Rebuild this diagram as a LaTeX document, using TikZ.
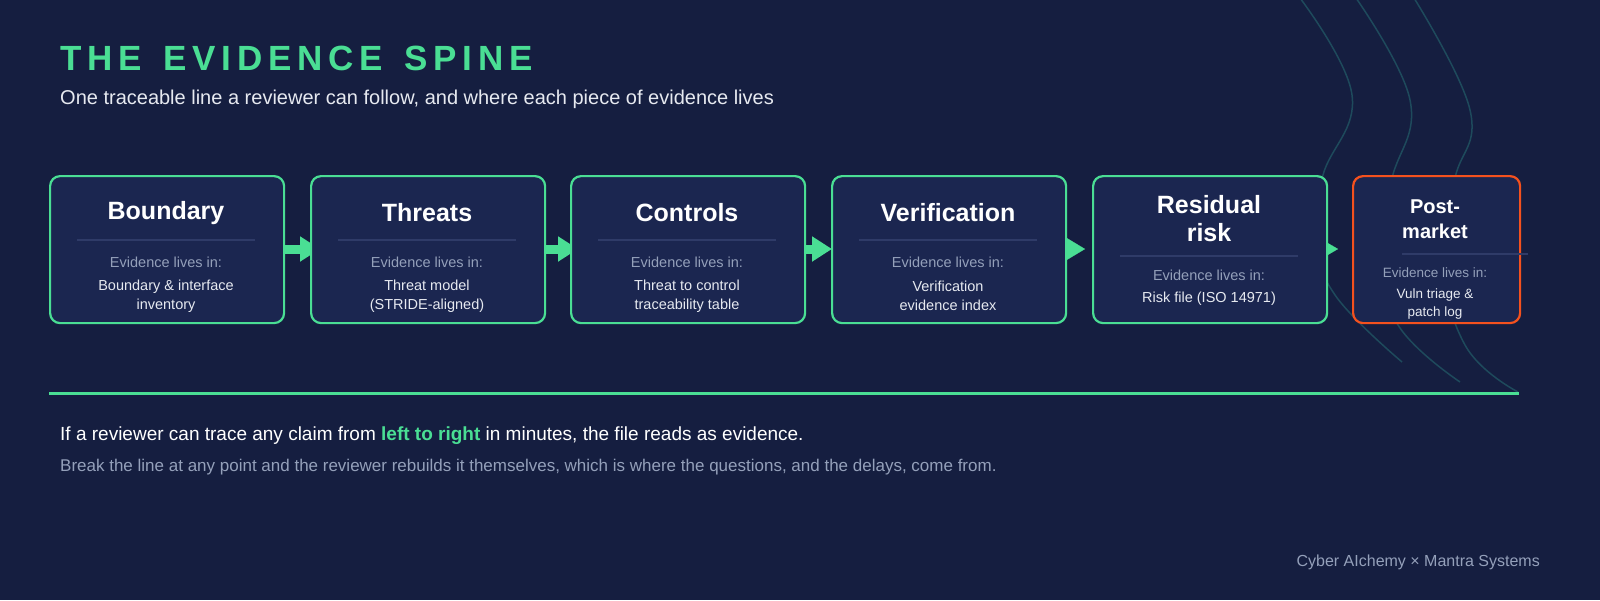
\documentclass[tikz,border=0pt]{standalone}
\usepackage{fontspec}
\setmainfont{Liberation Sans}
\usetikzlibrary{arrows.meta}
\definecolor{bg}{HTML}{151E40}
\definecolor{boxbg}{HTML}{1B2650}
\definecolor{grn}{HTML}{4ADE94}
\definecolor{org}{HTML}{F4511E}
\definecolor{arc}{HTML}{1E4A5C}
\definecolor{sep}{HTML}{2F3B68}
\definecolor{mut}{HTML}{94A0BA}
\definecolor{txt}{HTML}{E6E9F0}
\begin{document}
\begin{tikzpicture}[x=1pt,y=-1pt,
  box/.style={draw=grn,line width=2.2pt,fill=boxbg,rounded corners=10pt},
  ttl/.style={text=white,font=\bfseries\fontsize{25}{27}\selectfont,align=center},
  ttls/.style={text=white,font=\bfseries\fontsize{20}{25}\selectfont,align=center},
  lab/.style={text=mut,font=\fontsize{14.5}{17}\selectfont},
  val/.style={text=txt,font=\fontsize{14.5}{19}\selectfont,align=center},
  sepl/.style={draw=sep,line width=1.2pt},
  arr/.style={grn,line width=9pt,-{Triangle[length=20pt,width=24pt]}},
  crv/.style={draw=arc,line width=1.5pt}]
\fill[bg] (0,0) rectangle (1600,600);
\useasboundingbox (0,0) rectangle (1600,600);
% decorative arcs
\draw[crv] plot[smooth,tension=0.7] coordinates {(1300,-2)(1352,95)(1323,175)(1315,235)(1335,295)(1402,362)};
\draw[crv] plot[smooth,tension=0.7] coordinates {(1356,-2)(1410,100)(1392,178)(1375,245)(1398,325)(1460,382)};
\draw[crv] plot[smooth,tension=0.7] coordinates {(1414,-2)(1470,110)(1455,178)(1440,250)(1465,345)(1518,392)};
% connectors
\coordinate (a1s) at (283,249); \coordinate (a1e) at (320,249);
\coordinate (a2s) at (543,249); \coordinate (a2e) at (578,249);
\coordinate (a3s) at (804,249); \coordinate (a3e) at (832,249);
\coordinate (a4s) at (1064,249); \coordinate (a4e) at (1085,249);
\coordinate (a5s) at (1325,249); \coordinate (a5e) at (1338,249);
\draw[arr] (a1s) -- (a1e);
\draw[arr] (a2s) -- (a2e);
\draw[arr] (a3s) -- (a3e);
\draw[arr,line width=0.1pt] (a4s) -- (a4e);
\draw[grn,line width=0.1pt,-{Triangle[length=12pt,width=14pt]}] (a5s) -- (a5e);
% boxes
\node[box,minimum width=234pt,minimum height=147pt,anchor=north west] (b1) at (49,175) {};
\node[box,minimum width=234pt,minimum height=147pt,anchor=north west] (b2) at (310,175) {};
\node[box,minimum width=234pt,minimum height=147pt,anchor=north west] (b3) at (570,175) {};
\node[box,minimum width=234pt,minimum height=147pt,anchor=north west] (b4) at (831,175) {};
\node[box,minimum width=234pt,minimum height=147pt,anchor=north west] (b5) at (1092,175) {};
\node[box,draw=org,minimum width=167pt,minimum height=147pt,anchor=north west] (b6) at (1352,175) {};
% box contents
\node[ttl] (t1) at (166,213) {Boundary};
\draw[sepl] (77,240) -- (255,240);
\node[lab] (l1) at (166,262) {Evidence lives in:};
\node[val] (v1) at (166,296) {Boundary \& interface\\inventory};
\node[ttl] (t2) at (427,213) {Threats};
\draw[sepl] (338,240) -- (516,240);
\node[lab] (l2) at (427,262) {Evidence lives in:};
\node[val] (v2) at (427,296) {Threat model\\(STRIDE-aligned)};
\node[ttl] (t3) at (687,213) {Controls};
\draw[sepl] (598,240) -- (776,240);
\node[lab] (l3) at (687,262) {Evidence lives in:};
\node[val] (v3) at (687,296) {Threat to control\\traceability table};
\node[ttl] (t4) at (948,213) {Verification};
\draw[sepl] (859,240) -- (1037,240);
\node[lab] (l4) at (948,262) {Evidence lives in:};
\node[val] (v4) at (948,296) {Verification\\evidence index};
\node[ttl,font=\bfseries\fontsize{25}{28}\selectfont] (t5) at (1209,219) {Residual\\risk};
\draw[sepl] (1120,256) -- (1298,256);
\node[lab] (l5) at (1209,275) {Evidence lives in:};
\node[val] (v5) at (1209,299) {Risk file (ISO 14971)};
\node[ttls] (t6) at (1435,219) {Post-\\market};
\draw[sepl] (1402,254) -- (1528,254);
\node[lab,font=\fontsize{13.5}{16}\selectfont] (l6) at (1435,273) {Evidence lives in:};
\node[val,font=\fontsize{13.5}{18}\selectfont] (v6) at (1435,304) {Vuln triage \&\\patch log};
% title
\node[anchor=base west,text=grn,font=\bfseries\fontsize{35}{40}\selectfont,inner sep=0] (title) at (60,70) {T\,H\,E\, \,E\,V\,I\,D\,E\,N\,C\,E\, \,S\,P\,I\,N\,E};
\node[anchor=base west,text=txt,font=\fontsize{20}{24}\selectfont,inner sep=0] (sub) at (60,104) {One traceable line a reviewer can follow, and where each piece of evidence lives};
% rule
\coordinate (r1) at (49,393); \coordinate (r2) at (1519,393);
\draw[grn,line width=3pt] (r1) -- (r2);
\node[anchor=base west,text=white,font=\fontsize{19}{22}\selectfont,inner sep=0] (q1) at (60,440) {If a reviewer can trace any claim from \textcolor{grn}{\bfseries left to right} in minutes, the file reads as evidence.};
\node[anchor=base west,text=mut,font=\fontsize{17}{20}\selectfont,inner sep=0] (q2) at (60,471) {Break the line at any point and the reviewer rebuilds it themselves, which is where the questions, and the delays, come from.};
\node[anchor=base east,text=mut,font=\fontsize{16}{19}\selectfont,inner sep=0] (foot) at (1540,566) {Cyber AIchemy × Mantra Systems};
\end{tikzpicture}
\end{document}
